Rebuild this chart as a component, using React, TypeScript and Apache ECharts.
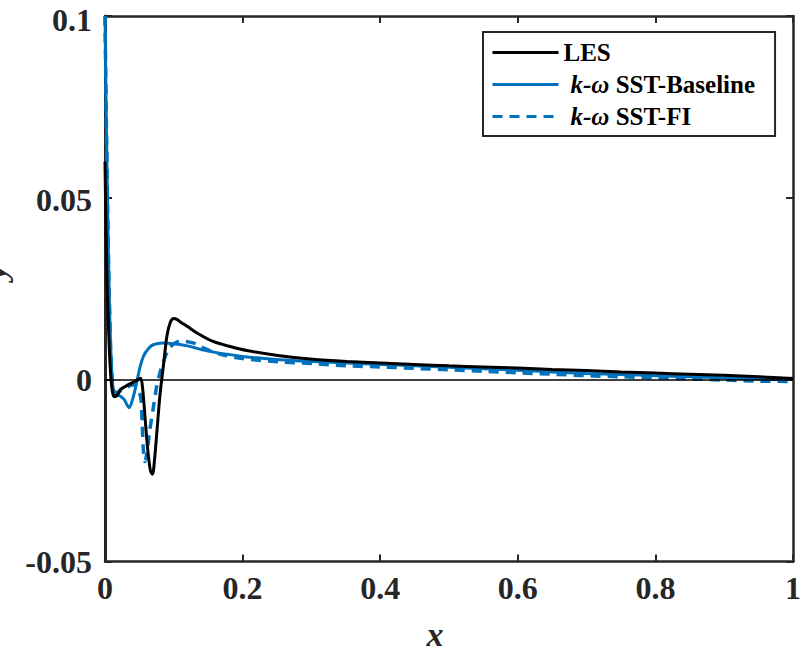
import React, { useEffect, useRef } from "react";
import * as echarts from "echarts";

const xTicks = [0, 0.2, 0.4, 0.6, 0.8, 1];
const yTicks = [-0.05, 0, 0.05, 0.1];

const lesX = [0, 0.002, 0.005, 0.008, 0.011, 0.014, 0.018, 0.022, 0.03, 0.04, 0.048, 0.052, 0.055, 0.058, 0.062, 0.066, 0.069, 0.072, 0.076, 0.08, 0.085, 0.09, 0.095, 0.1, 0.105, 0.11, 0.12, 0.135, 0.157, 0.182, 0.206, 0.254, 0.302, 0.352, 0.4, 0.45, 0.5, 0.55, 0.6, 0.65, 0.7, 0.75, 0.8, 0.85, 0.9, 0.95, 1.0];
const lesY = [0.06, 0.035, 0.015, 0.002, -0.0035, -0.0047, -0.0042, -0.0028, -0.0018, -0.0008, 0.0, 0.0004, -0.003, -0.01, -0.019, -0.025, -0.026, -0.022, -0.013, -0.004, 0.004, 0.012, 0.0158, 0.0168, 0.0165, 0.0158, 0.0146, 0.0127, 0.0105, 0.0091, 0.008, 0.0066, 0.0056, 0.005, 0.0046, 0.0042, 0.0038, 0.0035, 0.0032, 0.0028, 0.0025, 0.0021, 0.0018, 0.0015, 0.0012, 0.0008, 0.0003];

const baseX = [0, 0.002, 0.004, 0.006, 0.008, 0.01, 0.012, 0.016, 0.022, 0.028, 0.035, 0.04, 0.046, 0.051, 0.056, 0.063, 0.07, 0.084, 0.1, 0.12, 0.14, 0.16, 0.18, 0.2, 0.254, 0.302, 0.352, 0.4, 0.45, 0.5, 0.55, 0.6, 0.65, 0.7, 0.75, 0.8, 0.85, 0.9, 0.95, 0.99, 1.0];
const baseY = [0.1, 0.07, 0.045, 0.025, 0.01, 0.002, -0.0025, -0.004, -0.0045, -0.0055, -0.0077, -0.0055, -0.0008, 0.0035, 0.0065, 0.0085, 0.0096, 0.0101, 0.0099, 0.0093, 0.0083, 0.0075, 0.0069, 0.0064, 0.0055, 0.005, 0.0046, 0.0042, 0.0038, 0.0034, 0.003, 0.0026, 0.0021, 0.0017, 0.0014, 0.0011, 0.0008, 0.0005, 0.0002, 0.0, 0.0005];

const fiX = [0, 0.002, 0.004, 0.006, 0.008, 0.01, 0.013, 0.018, 0.025, 0.032, 0.041, 0.047, 0.052, 0.054, 0.056, 0.058, 0.061, 0.065, 0.07, 0.075, 0.08, 0.086, 0.093, 0.103, 0.112, 0.128, 0.138, 0.155, 0.172, 0.2, 0.254, 0.302, 0.352, 0.4, 0.45, 0.5, 0.55, 0.6, 0.65, 0.7, 0.75, 0.8, 0.85, 0.9, 0.95, 1.0];
const fiY = [0.1, 0.07, 0.045, 0.025, 0.01, 0.001, -0.0033, -0.0035, -0.0028, -0.002, -0.0014, -0.0025, -0.005, -0.012, -0.02, -0.0225, -0.02, -0.014, -0.008, -0.002, 0.002, 0.0055, 0.0085, 0.0102, 0.0106, 0.0101, 0.0092, 0.0078, 0.0068, 0.0058, 0.0049, 0.0044, 0.0038, 0.0035, 0.0031, 0.0027, 0.0023, 0.0019, 0.0015, 0.0011, 0.0008, 0.0005, 0.0002, -0.0001, -0.0004, -0.0005];

const seriesNames = ["LES", "k-ω SST-Baseline", "k-ω SST-FI"];

const zip = (xs: number[], ys: number[]) => xs.map((x, i) => [x, ys[i]]);

const FONT = "'Liberation Serif', 'Times New Roman', serif";
const AXIS_COLOR = "#262626";

export default function App() {
  const ref = useRef<HTMLDivElement>(null);
  useEffect(() => {
    if (!ref.current) return;
    const chart = echarts.init(ref.current, undefined, { renderer: "svg" });
    const labelStyle = {
      fontFamily: FONT,
      fontWeight: "bold" as const,
      fontSize: 32,
      color: AXIS_COLOR,
    };
    const tickStyle = { show: true, inside: true, length: 7, lineStyle: { color: AXIS_COLOR, width: 2 } };
    chart.setOption({
      animation: false,
      backgroundColor: "#ffffff",
      grid: { left: 105, right: 13, top: 16, bottom: 95.5, show: false },
      xAxis: [
        {
          type: "value",
          min: 0,
          max: 1,
          interval: 0.2,
          position: "bottom",
          axisLine: { show: true, onZero: false, lineStyle: { color: AXIS_COLOR, width: 2.5 } },
          axisTick: tickStyle,
          splitLine: { show: false },
          axisLabel: { ...labelStyle, margin: 10, formatter: (v: number) => String(+v.toFixed(2)) },
          name: "x",
          nameLocation: "middle",
          nameGap: 56,
          nameTextStyle: { fontFamily: FONT, fontWeight: "bold", fontStyle: "italic", fontSize: 34, color: AXIS_COLOR, padding: [0, 28, 0, 0] },
        },
        {
          type: "value",
          min: 0,
          max: 1,
          interval: 0.2,
          position: "top",
          axisLine: { show: true, onZero: false, lineStyle: { color: AXIS_COLOR, width: 2.5 } },
          axisTick: tickStyle,
          splitLine: { show: false },
          axisLabel: { show: false },
        },
      ],
      yAxis: [
        {
          type: "value",
          min: -0.05,
          max: 0.1,
          interval: 0.05,
          position: "left",
          axisLine: { show: true, onZero: false, lineStyle: { color: AXIS_COLOR, width: 3 } },
          axisTick: tickStyle,
          splitLine: { show: false },
          axisLabel: {
            ...labelStyle,
            margin: 13,
            formatter: (v: number) => {
              const s = String(+v.toFixed(3));
              if (Math.abs(v - 0.1) < 1e-9) return "{top|" + s + "}";
              if (Math.abs(v - 0.05) < 1e-9) return "{mid|" + s + "}";
              return s;
            },
            rich: {
              top: { ...labelStyle, padding: [7, 0, 0, 0] },
              mid: { ...labelStyle, padding: [4, 0, 0, 0] },
            },
          },
        },
        {
          type: "value",
          min: -0.05,
          max: 0.1,
          interval: 0.05,
          position: "right",
          axisLine: { show: true, onZero: false, lineStyle: { color: AXIS_COLOR, width: 2.5 } },
          axisTick: tickStyle,
          splitLine: { show: false },
          axisLabel: { show: false },
        },
      ],
      legend: {
        orient: "vertical",
        left: 483,
        top: 32,
        backgroundColor: "#ffffff",
        borderColor: AXIS_COLOR,
        borderWidth: 2,
        borderRadius: 0,
        padding: [8, 20, 7, 8],
        itemWidth: 66,
        itemHeight: 14,
        itemGap: 7,
        data: seriesNames,
        itemStyle: { opacity: 0 },
        lineStyle: { width: 3 },
        formatter: (name: string) => {
          if (name.startsWith("k-ω")) return "{it|k-ω} " + name.slice(4);
          return name;
        },
        textStyle: {
          fontFamily: FONT,
          fontWeight: "bold",
          fontSize: 25,
          color: "#000000",
          rich: {
            it: { fontFamily: FONT, fontWeight: "bold", fontStyle: "italic", fontSize: 25, color: "#000000", padding: [0, 0, 0, 7] },
          },
        },
      },
      series: [
        {
          name: seriesNames[0],
          type: "line",
          data: zip(lesX, lesY),
          showSymbol: false,
          symbol: "none",
          smooth: 0.3,
          z: 3,
          lineStyle: { color: "#000000", width: 3 },
          itemStyle: { color: "#000000" },
          markLine: {
            silent: true,
            symbol: "none",
            label: { show: false },
            lineStyle: { color: "#000000", width: 1.5, type: "solid" },
            data: [{ yAxis: 0 }],
          },
        },
        {
          name: seriesNames[1],
          type: "line",
          data: zip(baseX, baseY),
          showSymbol: false,
          symbol: "none",
          smooth: 0.3,
          z: 2,
          lineStyle: { color: "#0072BD", width: 3 },
          itemStyle: { color: "#0072BD" },
        },
        {
          name: seriesNames[2],
          type: "line",
          data: zip(fiX, fiY),
          showSymbol: false,
          symbol: "none",
          smooth: 0.3,
          z: 2,
          lineStyle: { color: "#0072BD", width: 3.5, type: [10, 7] },
          itemStyle: { color: "#0072BD" },
        },
      ],
      graphic: [
        {
          type: "text",
          x: -6,
          y: 272,
          rotation: Math.PI / 2,
          style: {
            text: "y",
            fontFamily: FONT,
            fontWeight: "bold",
            fontStyle: "italic",
            fontSize: 34,
            fill: AXIS_COLOR,
            textAlign: "center",
            textVerticalAlign: "middle",
          },
        },
      ],
    });
    return () => chart.dispose();
  }, []);
  return <div ref={ref} style={{ width: 806, height: 657, position: "absolute", left: 0, top: 0 }} />;
}
